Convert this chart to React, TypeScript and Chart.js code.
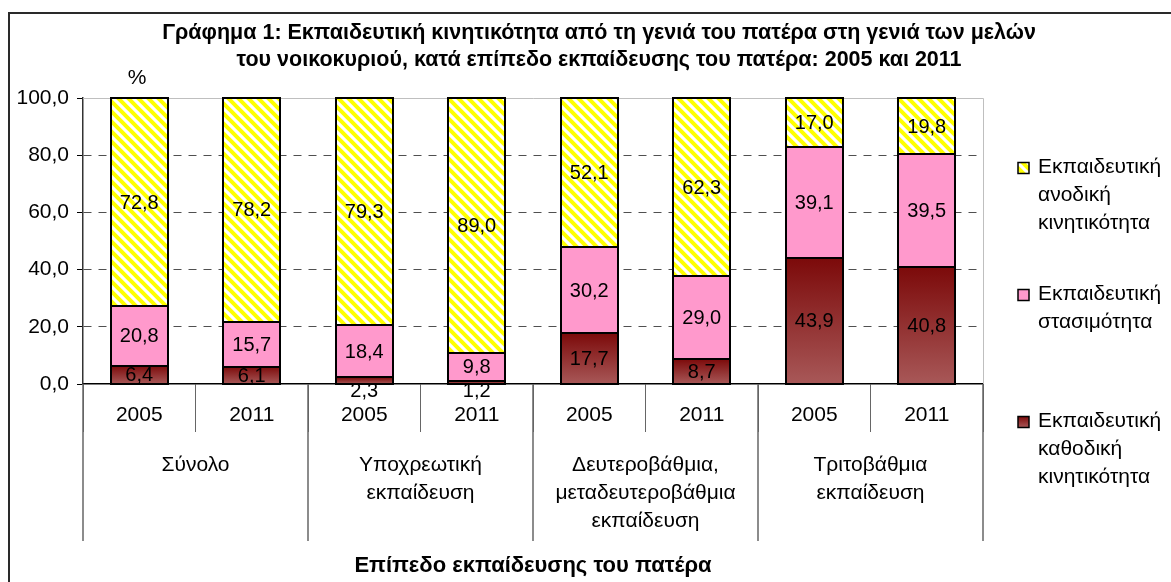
import React, { useEffect, useRef } from "react";
import { Chart, registerables } from "chart.js";

Chart.register(...registerables);

// ---------- data ----------
const yearLabels = ["2005", "2011", "2005", "2011", "2005", "2011", "2005", "2011"];
const groupLabels: string[][] = [
  ["Σύνολο"],
  ["Υποχρεωτική", "εκπαίδευση"],
  ["Δευτεροβάθμια,", "μεταδευτεροβάθμια", "εκπαίδευση"],
  ["Τριτοβάθμια", "εκπαίδευση"],
];
const downwardValues = [6.4, 6.1, 2.3, 1.2, 17.7, 8.7, 43.9, 40.8];
const stagnantValues = [20.8, 15.7, 18.4, 9.8, 30.2, 29.0, 39.1, 39.5];
const upwardValues = [72.8, 78.2, 79.3, 89.0, 52.1, 62.3, 17.0, 19.8];
const downwardLabel = ["Εκπαιδευτική", "καθοδική", "κινητικότητα"];
const stagnantLabel = ["Εκπαιδευτική", "στασιμότητα"];
const upwardLabel = ["Εκπαιδευτική", "ανοδική", "κινητικότητα"];
const titleLines = [
  "Γράφημα 1: Εκπαιδευτική κινητικότητα από τη γενιά του πατέρα στη γενιά των μελών",
  "του νοικοκυριού, κατά επίπεδο εκπαίδευσης του πατέρα: 2005 και 2011",
];
const xAxisTitle = "Επίπεδο εκπαίδευσης του πατέρα";
const unitLabel = "%";
const yMin = 0;
const yMax = 100;
const yStep = 20;

// ---------- styling ----------
const FONT = '"Liberation Sans", Arial, sans-serif';
const W = 1171;
const H = 582;
const LINE_H = 28;

const fmt = (v: number) => Number(v).toFixed(1).replace(".", ",");

function makeHatchCanvas(): HTMLCanvasElement {
  const c = document.createElement("canvas");
  const s = 10;
  c.width = s;
  c.height = s;
  const g = c.getContext("2d")!;
  g.fillStyle = "#FFFFFF";
  g.fillRect(0, 0, s, s);
  g.strokeStyle = "#FFFF00";
  g.lineWidth = 4;
  g.beginPath();
  for (const k of [-s, 0, s]) {
    g.moveTo(k - 2, -2);
    g.lineTo(k + s + 2, s + 2);
  }
  g.stroke();
  return c;
}

function darkGradient(ctx: CanvasRenderingContext2D, top: number, bottom: number) {
  const g = ctx.createLinearGradient(0, top, 0, bottom);
  g.addColorStop(0, "#7C0A0A");
  g.addColorStop(1, "#A85858");
  return g;
}

// crisp black outlines around each bar segment + value labels
const segmentLabelPlugin = {
  id: "segmentLabels",
  afterDatasetsDraw(chart: any) {
    const ctx: CanvasRenderingContext2D = chart.ctx;
    ctx.save();
    ctx.strokeStyle = "#000";
    ctx.lineWidth = 2;
    chart.data.datasets.forEach((_ds: any, di: number) => {
      const meta = chart.getDatasetMeta(di);
      meta.data.forEach((el: any) => {
        const { x, y, base, width } = el.getProps(["x", "y", "base", "width"], true);
        const L = Math.round(x - width / 2);
        const R = Math.round(x + width / 2);
        const T = Math.max(Math.round(y), Math.round(chart.chartArea.top));
        const B = Math.round(base);
        ctx.strokeRect(L, T, R - L, B - T);
      });
    });

    ctx.font = `20px ${FONT}`;
    ctx.fillStyle = "#000";
    ctx.textAlign = "center";
    ctx.textBaseline = "middle";
    chart.data.datasets.forEach((ds: any, di: number) => {
      const meta = chart.getDatasetMeta(di);
      meta.data.forEach((el: any, i: number) => {
        const { x, y, base } = el.getProps(["x", "y", "base"], true);
        const h = base - y;
        const cy = h < 16 ? base + 7 : (y + base) / 2;
        ctx.fillText(fmt(ds.data[i]), x, cy + 1);
      });
    });
    ctx.restore();
  },
};

const decorPlugin = {
  id: "decor",
  beforeDatasetsDraw(chart: any) {
    const ctx: CanvasRenderingContext2D = chart.ctx;
    const a = chart.chartArea;
    ctx.save();
    ctx.strokeStyle = "#BFBFBF";
    ctx.lineWidth = 1;
    ctx.beginPath();
    ctx.moveTo(a.left, Math.round(a.top) + 0.5);
    ctx.lineTo(Math.round(a.right) + 0.5, Math.round(a.top) + 0.5);
    ctx.lineTo(Math.round(a.right) + 0.5, a.bottom);
    ctx.stroke();
    ctx.restore();
  },
  afterDraw(chart: any) {
    const ctx: CanvasRenderingContext2D = chart.ctx;
    const a = chart.chartArea;
    const xs = chart.scales.x;
    ctx.save();

    // outer frame
    ctx.strokeStyle = "#2a2a2a";
    ctx.lineWidth = 2;
    ctx.strokeRect(9, 13, W + 100, H + 100);

    // title
    ctx.fillStyle = "#000";
    ctx.textAlign = "center";
    ctx.textBaseline = "middle";
    ctx.font = `bold 21.5px ${FONT}`;
    titleLines.forEach((t, i) => ctx.fillText(t, 599, 33 + i * 27));

    // unit label
    ctx.font = `21px ${FONT}`;
    ctx.fillText(unitLabel, (xs.getPixelForValue(0) + a.left) / 2 + 26, 78);

    // group separators and labels
    const half = (xs.getPixelForValue(1) - xs.getPixelForValue(0)) / 2;
    ctx.strokeStyle = "#666";
    ctx.lineWidth = 1.5;
    for (let g = 0; g <= groupLabels.length; g++) {
      const px = Math.round(xs.getPixelForValue(g * 2) - half);
      ctx.beginPath();
      ctx.moveTo(px, a.bottom);
      ctx.lineTo(px, xs.bottom);
      ctx.stroke();
    }
    ctx.font = `21px ${FONT}`;
    groupLabels.forEach((lines, g) => {
      const cx = (xs.getPixelForValue(g * 2) + xs.getPixelForValue(g * 2 + 1)) / 2;
      lines.forEach((t, i) => ctx.fillText(t, cx, 465 + i * LINE_H));
    });

    // x-axis title
    ctx.font = `bold 22px ${FONT}`;
    ctx.fillText(xAxisTitle, (a.left + a.right) / 2, 566);

    // legend
    const items = [...chart.data.datasets].reverse();
    items.forEach((ds: any, k: number) => {
      const top = 168 + k * 127;
      const mx = 1018;
      const ms = 11;
      const my = top - ms / 2;
      let fill: any = ds.legendFill;
      if (fill === "gradient") fill = darkGradient(ctx, my, my + ms);
      ctx.fillStyle = fill;
      ctx.fillRect(mx, my, ms, ms);
      ctx.strokeStyle = "#000";
      ctx.lineWidth = 1.5;
      ctx.strokeRect(mx, my, ms, ms);
      ctx.fillStyle = "#000";
      ctx.textAlign = "left";
      ctx.font = `21px ${FONT}`;
      (ds.labelLines as string[]).forEach((t, i) => ctx.fillText(t, 1038, top - 1 + i * LINE_H));
    });
    ctx.restore();
  },
};

export default function App() {
  const ref = useRef<HTMLCanvasElement>(null);

  useEffect(() => {
    const canvas = ref.current!;
    const ctx2d = canvas.getContext("2d")!;
    const hatch = ctx2d.createPattern(makeHatchCanvas(), "repeat")!;

    const common = {
      borderWidth: 0,
      inflateAmount: 0,
      categoryPercentage: 1,
      barPercentage: 0.51,
    };

    const chart = new Chart(canvas, {
      type: "bar",
      data: {
        labels: yearLabels,
        datasets: [
          {
            ...common,
            label: downwardLabel.join(" "),
            data: downwardValues,
            backgroundColor: (c: any) => {
              const ch = c.chart;
              if (!ch.chartArea) return "#8B2020";
              const ys = ch.scales.y;
              const top = ys.getPixelForValue(downwardValues[c.dataIndex]);
              const bottom = ys.getPixelForValue(0);
              return darkGradient(ch.ctx, top, bottom);
            },
            labelLines: downwardLabel,
            legendFill: "gradient",
          } as any,
          {
            ...common,
            label: stagnantLabel.join(" "),
            data: stagnantValues,
            backgroundColor: "#FF99CC",
            labelLines: stagnantLabel,
            legendFill: "#FF99CC",
          } as any,
          {
            ...common,
            label: upwardLabel.join(" "),
            data: upwardValues,
            backgroundColor: hatch,
            labelLines: upwardLabel,
            legendFill: hatch,
          } as any,
        ],
      },
      options: {
        responsive: false,
        animation: false,
        events: [],
        layout: { padding: { left: 0, top: 98, right: 188, bottom: 41 } },
        plugins: {
          legend: { display: false },
          title: { display: false },
          tooltip: { enabled: false },
        },
        scales: {
          x: {
            stacked: true,
            offset: true,
            grid: {
              offset: true,
              drawOnChartArea: false,
              drawTicks: true,
              tickLength: 48,
              color: "#666",
              tickColor: "#666",
              lineWidth: 1,
            },
            border: { display: true, color: "#000", width: 1.5 },
            ticks: {
              color: "#000",
              font: { family: FONT, size: 21 },
              padding: -29,
              maxRotation: 0,
              autoSkip: false,
            },
            afterFit: (s: any) => {
              s.height = 157;
            },
          },
          y: {
            stacked: true,
            min: yMin,
            max: yMax,
            ticks: {
              stepSize: yStep,
              color: "#000",
              font: { family: FONT, size: 21 },
              padding: 8,
              callback: (v: any) => fmt(Number(v)),
            },
            grid: {
              color: (c: any) =>
                c.tick && (c.tick.value === yMin || c.tick.value === yMax) ? "rgba(0,0,0,0)" : "#505050",
              tickColor: "#000",
              tickLength: 6,
              tickBorderDash: [],
              lineWidth: 1,
            },
            border: { display: true, color: "#333", width: 1.5, dash: [8, 7] },
            afterFit: (s: any) => {
              s.width = 83;
            },
          },
        },
      } as any,
      plugins: [decorPlugin, segmentLabelPlugin],
    });
    return () => chart.destroy();
  }, []);

  return (
    <div style={{ position: "fixed", left: 0, top: 0, width: W, height: H, overflow: "hidden", background: "#fff" }}>
      <canvas ref={ref} width={W} height={H} style={{ width: W, height: H, display: "block" }} />
    </div>
  );
}
